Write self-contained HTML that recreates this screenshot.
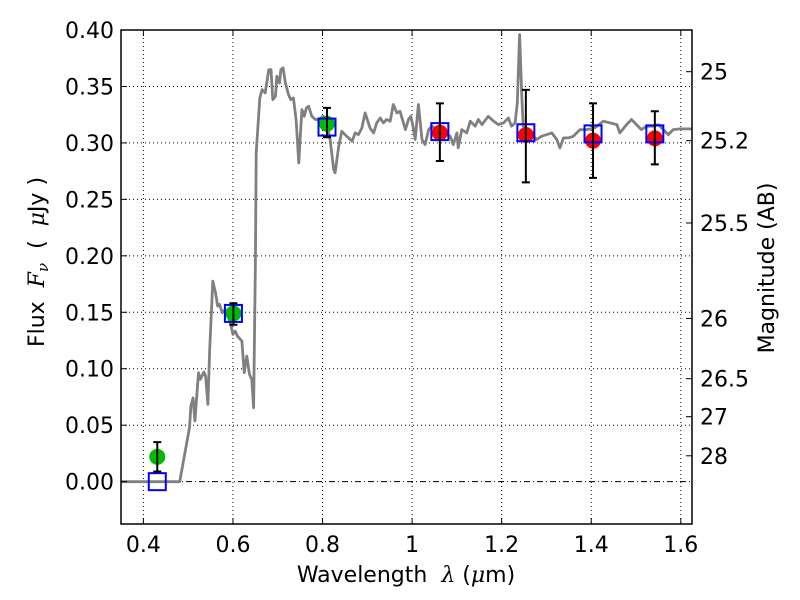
<!DOCTYPE html>
<html><head><meta charset="utf-8">
<style>
html,body{margin:0;padding:0;background:#fff;}
svg{display:block;font-family:"DejaVu Sans","Liberation Sans",sans-serif;}
</style></head>
<body>
<svg id="chart" width="800" height="600" viewBox="0 0 800 600" xmlns="http://www.w3.org/2000/svg">
<defs><clipPath id="plotclip"><rect x="121" y="30" width="571" height="494"/></clipPath></defs>
<rect x="0" y="0" width="800" height="600" fill="#fff"/>
<g id="grid"></g>
<g id="spec" clip-path="url(#plotclip)"></g>
<g id="marks"></g>
<rect x="121" y="30" width="571" height="494" fill="none" stroke="#000" stroke-width="1.5"/>
<g id="axes"></g>
<text x="406" y="582" text-anchor="middle" font-size="22" xml:space="preserve">Wavelength  <tspan font-style="italic" font-family="DejaVu Serif,serif">λ</tspan> (<tspan font-style="italic" font-family="DejaVu Serif,serif">μ</tspan>m)</text>
<text transform="translate(44,262) rotate(-90)" text-anchor="middle" font-size="22" xml:space="preserve">Flux  <tspan font-style="italic" font-family="DejaVu Serif,serif">F</tspan><tspan font-style="italic" font-family="DejaVu Serif,serif" font-size="15" dy="4">ν</tspan><tspan dy="-4">  (  </tspan><tspan font-style="italic" font-family="DejaVu Serif,serif">μ</tspan>Jy )</text>
<text transform="translate(774,268) rotate(-90)" text-anchor="middle" font-size="22">Magnitude (AB)</text>
</svg>
<script>
const specLambda=[0.349,0.481,0.503,0.506,0.511,0.515,0.523,0.527,0.535,0.539,0.544,0.548,0.555,0.561,0.566,0.570,0.576,0.583,0.594,0.600,0.605,0.610,0.620,0.625,0.631,0.637,0.642,0.646,0.650,0.652,0.660,0.665,0.672,0.680,0.685,0.689,0.695,0.698,0.704,0.707,0.712,0.717,0.724,0.729,0.735,0.741,0.747,0.750,0.754,0.759,0.764,0.769,0.776,0.784,0.791,0.802,0.810,0.817,0.825,0.828,0.836,0.843,0.854,0.866,0.873,0.880,0.888,0.895,0.900,0.906,0.914,0.921,0.929,0.936,0.943,0.951,
0.958,0.966,0.973,0.985,0.992,0.997,1.002,1.007,1.014,1.022,1.029,1.037,1.044,1.055,1.070,1.085,1.092,1.100,1.103,1.111,1.122,1.130,1.141,1.148,1.156,1.170,1.182,1.193,1.204,1.215,1.222,1.230,1.235,1.240,1.245,1.248,1.263,1.278,1.289,1.301,1.312,1.323,1.330,1.338,1.349,1.360,1.375,1.390,1.408,1.427,1.442,1.457,1.464,1.479,1.490,1.501,1.512,1.524,1.538,1.550,1.561,1.572,1.583,1.598,1.625,1.65];
const specFlux=[0,0,0.048,0.067,0.0743,0.0537,0.0965,0.0906,0.0971,0.0935,0.0684,0.1171,0.1776,0.1673,0.1555,0.157,0.1496,0.1525,0.1407,0.1304,0.1333,0.1289,0.1245,0.0965,0.1112,0.095,0.0906,0.0655,0.1938,0.2912,0.3398,0.3472,0.3443,0.3649,0.3649,0.3384,0.3413,0.359,0.3531,0.3649,0.3664,0.3531,0.3428,0.3384,0.3398,0.3207,0.2823,0.303,0.3295,0.3236,0.331,0.3325,0.3236,0.3207,0.3207,0.3236,0.3177,0.303,0.2764,0.2735,0.297,0.3103,0.3059,0.3015,0.3089,0.3074,0.3133,0.3266,0.3207,0.3133,0.3089,0.3177,0.3221,0.3177,0.3207,0.3192,
0.334,0.3266,0.328,0.3118,0.3207,0.3236,0.3148,0.303,0.334,0.303,0.2985,0.3118,0.3148,0.3118,0.3089,0.3059,0.2985,0.3089,0.2956,0.3118,0.3089,0.3192,0.3148,0.3207,0.3162,0.3236,0.3192,0.3162,0.3177,0.3221,0.3148,0.3177,0.3354,0.3959,0.3413,0.3148,0.3089,0.303,0.3059,0.3074,0.3089,0.303,0.2956,0.3044,0.3044,0.3059,0.3118,0.3118,0.3133,0.3192,0.3177,0.3162,0.3089,0.3162,0.3207,0.3162,0.3118,0.3148,0.3148,0.3162,0.3118,0.3074,0.3118,0.3124,0.3124,0.3124];
const obsLambda=[0.431,0.601,0.81,1.062,1.254,1.404,1.542];
const obsFlux=[0.022,0.149,0.317,0.309,0.307,0.302,0.304];
const obsErrLow=[0.013,0.010,0.012,0.025,0.042,0.033,0.023];
const obsErrHigh=[0.013,0.009,0.014,0.026,0.040,0.033,0.024];
const obsColor=["#00bb00","#00bb00","#00bb00","#ff0000","#ff0000","#ff0000","#ff0000"];
const modelFlux=[0.0,0.149,0.314,0.310,0.309,0.308,0.308];
const xTicks=[0.4,0.6,0.8,1.0,1.2,1.4,1.6];
const xTickLabels=["0.4","0.6","0.8","1","1.2","1.4","1.6"];
const yTicks=[0,0.05,0.1,0.15,0.2,0.25,0.3,0.35,0.4];
const yTickLabels=["0.00","0.05","0.10","0.15","0.20","0.25","0.30","0.35","0.40"];
const magTicks=[25,25.2,25.5,26,26.5,27,28];
const magTickLabels=["25","25.2","25.5","26","26.5","27","28"];

const NS="http://www.w3.org/2000/svg";
const X0=121,X1=692,Y0=30,Y1=524,xmin=0.35,xmax=1.625,ymin=-0.0375,ymax=0.4;
const xs=v=>X0+(v-xmin)/(xmax-xmin)*(X1-X0);
const ys=v=>Y1-(v-ymin)/(ymax-ymin)*(Y1-Y0);
const magToFlux=m=>Math.pow(10,(23.9-m)/2.5);
function mk(tag,attrs,parent){const e=document.createElementNS(NS,tag);for(const k in attrs)e.setAttribute(k,attrs[k]);parent.appendChild(e);return e;}
const grid=document.getElementById('grid'),spec=document.getElementById('spec'),marks=document.getElementById('marks'),axes=document.getElementById('axes');

xTicks.forEach((t,i)=>{
  const x=xs(t);
  const g=mk('line',{x1:x,x2:x,y1:Y0,y2:Y1,stroke:'#000','stroke-width':1,'stroke-dasharray':'1,3'},grid);
  
  
  const a=mk('line',{x1:x,x2:x,y1:Y1,y2:Y1-6,stroke:'#000'},axes);
  
  
  const b=mk('line',{x1:x,x2:x,y1:Y0,y2:Y0+6,stroke:'#000'},axes);
  
  
  const tx=mk('text',{x:x,y:552,'text-anchor':'middle','font-size':22},axes);
  tx.textContent=xTickLabels[i];
  
  
});
yTicks.forEach((t,i)=>{
  const y=ys(t);
  const g=mk('line',{x1:X0,x2:X1,y1:y,y2:y,stroke:'#000','stroke-width':1,'stroke-dasharray':t===0?'6,3,1,3':'1,3'},grid);
  
  
  const a=mk('line',{x1:X0,x2:X0+6,y1:y,y2:y,stroke:'#000'},axes);
  
  
  const tx=mk('text',{x:114,y:y+8,'text-anchor':'end','font-size':22},axes);
  tx.textContent=yTickLabels[i];
  
  
});
magTicks.forEach((m,i)=>{
  const y=ys(magToFlux(m));
  const a=mk('line',{x1:X1,x2:X1-6,y1:y,y2:y,stroke:'#000'},axes);
  
  
  const tx=mk('text',{x:700,y:y+8,'text-anchor':'start','font-size':22},axes);
  tx.textContent=magTickLabels[i];
  
  
});

let d='';
specLambda.forEach((l,i)=>{d+=(i?'L':'M')+xs(l).toFixed(1)+','+ys(specFlux[i]).toFixed(1);});
const p=mk('path',{d:d,fill:'none',stroke:'#808080','stroke-width':2.8,'stroke-linejoin':'round'},spec);



obsLambda.forEach((l,i)=>{
  const x=xs(l);
  const c=mk('circle',{cx:x,cy:ys(obsFlux[i]),r:8,fill:obsColor[i]},marks);
  
  
  const sq=mk('rect',{x:x-8.5,y:ys(modelFlux[i])-8.5,width:17,height:17,fill:'none',stroke:'#0000ff','stroke-width':2},marks);
  
  
  const yt=ys(obsFlux[i]+obsErrHigh[i]),yb=ys(obsFlux[i]-obsErrLow[i]);
  const eb=mk('path',{d:`M${x},${yt}L${x},${yb}M${x-4},${yt}L${x+4},${yt}M${x-4},${yb}L${x+4},${yb}`,stroke:'#000','stroke-width':2,fill:'none'},marks);
  
  
});
</script>
</body></html>
